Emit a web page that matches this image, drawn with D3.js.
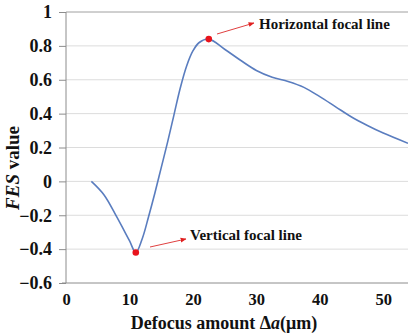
<!DOCTYPE html>
<html>
<head>
<meta charset="utf-8">
<script src="https://cdn.jsdelivr.net/npm/d3@7"></script>
<style>
  body { margin: 0; background: #fff; }
  svg { display: block; }
  text { font-family: "Liberation Serif", "Times New Roman", serif; font-weight: bold; fill: #111; }
</style>
</head>
<body>
<div id="plot-area"></div>
<script>
// values
const defocus = [4, 6, 8, 10, 11, 12, 13, 14, 15, 16, 17, 18, 19, 20, 21, 22.5, 25, 27.5, 30, 32.5, 35, 37.5, 40, 42.5, 45, 47.5, 50, 53.9];
const fes = [0, -0.08, -0.21, -0.35, -0.42, -0.34, -0.21, -0.07, 0.08, 0.23, 0.39, 0.55, 0.68, 0.77, 0.82, 0.84, 0.78, 0.715, 0.655, 0.615, 0.59, 0.555, 0.5, 0.44, 0.38, 0.33, 0.285, 0.225];
const focalPoints = [
    {x: 11, y: -0.42, label: "Vertical focal line"},
    {x: 22.5, y: 0.84, label: "Horizontal focal line"}
];
const yTicks = [-0.6, -0.4, -0.2, 0, 0.2, 0.4, 0.6, 0.8, 1];
const xTicks = [0, 10, 20, 30, 40, 50];

const width = 408, height = 335;
const margin = {top: 12, right: 0, bottom: 52, left: 66};

const svg = d3.select("#plot-area").append("svg")
    .attr("width", width)
    .attr("height", height);

const x = d3.scaleLinear().domain([0, 53.9]).range([margin.left, width - margin.right]);
const y = d3.scaleLinear().domain([-0.6, 1]).range([height - margin.bottom, margin.top]);

// gridlines
svg.append("g")
    .selectAll("line")
    .data(yTicks.filter(d => d > -0.6))
    .join("line")
    .attr("x1", margin.left)
    .attr("x2", width)
    .attr("y1", d => y(d))
    .attr("y2", d => y(d))
    .attr("stroke", d => d === 1 ? "#a0a0a0" : "#dcdcdc")
    .attr("stroke-width", 1);

// y axis
let yAxis = d3.axisLeft(y).tickValues(yTicks).tickSize(7).tickPadding(7)
    .tickFormat(d => d === 0 ? "0" : d3.format("")(Math.round(d * 10) / 10));
svg.append("g")
    .attr("transform", "translate(" + margin.left + ",0)")
    .call(yAxis)
    .call(g => g.selectAll("line, path").attr("stroke", "#8c8c8c"))
    .call(g => g.select(".domain").attr("d", "M0," + y(1) + "V" + y(-0.6)))
    .call(g => g.selectAll("text").style("font-size", "18px").style("font-family", "Liberation Serif").style("font-weight", "bold").attr("fill", "#111"));

// x axis
let xAxis = d3.axisBottom(x).tickValues(xTicks).tickSize(0).tickPadding(10);
svg.append("g")
    .attr("transform", "translate(0," + y(-0.6) + ")")
    .call(xAxis)
    .call(g => g.select(".domain").attr("stroke", "#8c8c8c").attr("d", "M" + (margin.left - 4) + ",0H" + width))
    .call(g => g.selectAll("text").style("font-size", "16.5px").style("font-family", "Liberation Serif").style("font-weight", "bold").attr("fill", "#111"));

// axis titles
svg.append("text")
    .attr("x", 224)
    .attr("y", 329)
    .attr("text-anchor", "middle")
    .style("font-size", "18px")
    .call(t => {
        t.append("tspan").text("Defocus amount Δ");
        t.append("tspan").style("font-style", "italic").text("a");
        t.append("tspan").text("(μm)");
    });

svg.append("text")
    .attr("transform", "translate(19,168) rotate(-90)")
    .attr("text-anchor", "middle")
    .style("font-size", "19px")
    .call(t => {
        t.append("tspan").style("font-style", "italic").text("FES");
        t.append("tspan").text(" value");
    });

// curve
const line = d3.line()
    .x((d, i) => x(defocus[i]))
    .y(d => y(d))
    .curve(d3.curveCatmullRom.alpha(0.5));

svg.append("path")
    .datum(fes)
    .attr("d", line)
    .attr("fill", "none")
    .attr("stroke", "#5a7dbf")
    .attr("stroke-width", 1.6);

// arrows + labels
svg.append("defs").append("marker")
    .attr("id", "arrow")
    .attr("viewBox", "0 0 10 10")
    .attr("refX", 9).attr("refY", 5)
    .attr("markerWidth", 6).attr("markerHeight", 6)
    .attr("orient", "auto")
    .append("path").attr("d", "M0,1L10,5L0,9Z").attr("fill", "#e02020");

const notes = [
    {from: [150, 247], to: [186, 239], text: [190, 240]},
    {from: [217, 34], to: [254, 23], text: [259, 29]}
];
focalPoints.forEach((p, i) => {
    let n = notes[i];
    svg.append("line")
        .attr("x1", n.from[0]).attr("y1", n.from[1])
        .attr("x2", n.to[0]).attr("y2", n.to[1])
        .attr("stroke", "#e04040").attr("stroke-width", 1)
        .attr("marker-end", "url(#arrow)");
    svg.append("text")
        .attr("x", n.text[0]).attr("y", n.text[1])
        .style("font-size", "15px")
        .text(p.label);
});

svg.append("g")
    .selectAll("circle")
    .data(focalPoints)
    .join("circle")
    .attr("cx", d => x(d.x))
    .attr("cy", d => y(d.y))
    .attr("r", 3.3)
    .attr("fill", "#e8141c");
</script>
</body>
</html>
